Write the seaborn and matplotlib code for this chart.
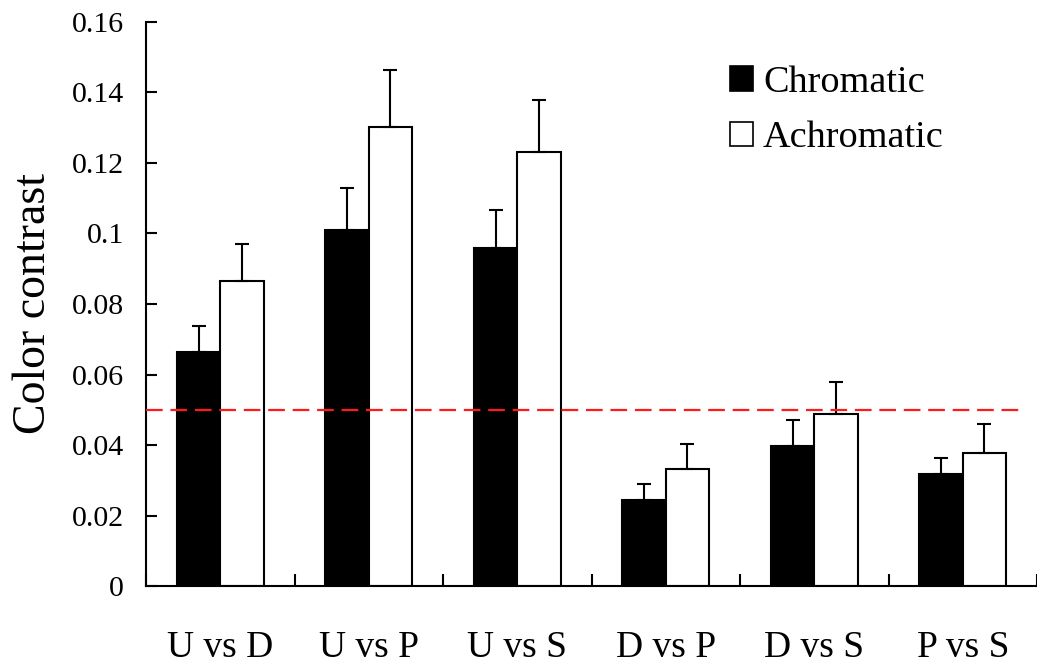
import matplotlib
matplotlib.use("Agg")
import matplotlib.pyplot as plt
import seaborn as sns
import pandas as pd
import numpy as np

pairs = ["U vs D", "U vs P", "U vs S", "D vs P", "D vs S", "P vs S"]
chromatic = [0.0663, 0.1010, 0.0958, 0.0244, 0.0398, 0.0318]
chromatic_err = [0.0075, 0.0118, 0.0108, 0.0045, 0.0072, 0.0044]
achromatic = [0.0866, 0.1303, 0.1230, 0.0333, 0.0487, 0.0378]
achromatic_err = [0.0103, 0.0161, 0.0149, 0.0069, 0.0092, 0.0081]
threshold = 0.05
series_names = ["Chromatic", "Achromatic"]

df = pd.DataFrame({
    "pair": pairs * 2,
    "value": chromatic + achromatic,
    "type": [series_names[0]] * len(pairs) + [series_names[1]] * len(pairs),
})
errs = [chromatic_err, achromatic_err]

sns.set_style("ticks")
plt.rcParams["font.family"] = ["Liberation Serif", "DejaVu Serif"]
plt.rcParams["text.color"] = "black"
plt.rcParams["axes.labelcolor"] = "black"
plt.rcParams["xtick.color"] = "black"
plt.rcParams["ytick.color"] = "black"

fig = plt.figure(figsize=(10.37, 6.66), dpi=100)
ax = fig.add_axes([0.1408, 0.1201, 0.8592, 0.8469])

sns.barplot(data=df, x="pair", y="value", hue="type", palette=["black", "white"],
            edgecolor="black", linewidth=1.5, width=0.585, gap=0, ax=ax,
            errorbar=None, legend=True)

for cont, err in zip(ax.containers, errs):
    xs = [p.get_x() + p.get_width() / 2 for p in cont.patches]
    hs = [p.get_height() for p in cont.patches]
    ax.errorbar(xs, hs, yerr=[np.zeros(len(err)), err], fmt="none", ecolor="black",
                elinewidth=1.5, capsize=5, capthick=1.5, zorder=1)

ax.axhline(threshold, xmin=0, xmax=0.981, color="#ff1a1a", linestyle=(0, (7.5, 3.5)),
           linewidth=1.6, zorder=3)

ax.set_xlim(-0.5, len(pairs) - 0.5)
ax.set_ylim(0, 0.16)
ax.set_yticks(np.arange(0, 0.161, 0.02))
ax.set_yticklabels(["0", "0.02", "0.04", "0.06", "0.08", "0.1", "0.12", "0.14", "0.16"])
ax.set_xticks(np.arange(-0.5, len(pairs) - 0.4, 1.0), minor=False)
ax.set_xticklabels([])
ax.set_xticks(np.arange(len(pairs)), minor=True)
ax.set_xticklabels(pairs, minor=True)
ax.tick_params(axis="x", which="major", direction="in", length=9, width=1.5)
ax.tick_params(axis="x", which="minor", length=0, pad=32, labelsize=27)
ax.tick_params(axis="y", direction="in", length=8, width=1.5, pad=16, labelsize=21.5)

for s in ["top", "right"]:
    ax.spines[s].set_visible(False)
for s in ["left", "bottom"]:
    ax.spines[s].set_linewidth(1.5)
    ax.spines[s].set_color("black")
ax.spines["bottom"].set_zorder(5)

ax.set_xlabel("")
ax.set_ylabel("Color contrast", fontsize=33, labelpad=12)

leg = ax.legend(loc="upper left", bbox_to_anchor=(0.638, 0.95), frameon=False,
                fontsize=27.5, handlelength=0.62, handleheight=0.62,
                handletextpad=0.25, labelspacing=0.55, borderaxespad=0)
for h in leg.legend_handles:
    h.set_edgecolor("black")
    h.set_linewidth(1.2)

fig.savefig("out.png", dpi=100)
